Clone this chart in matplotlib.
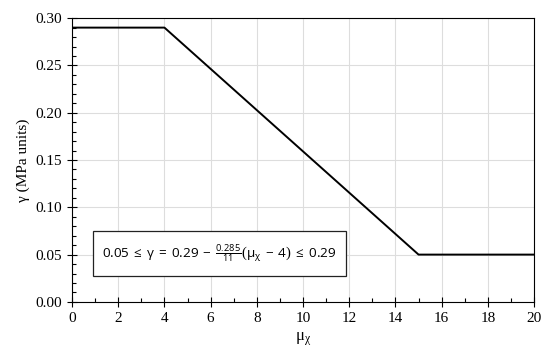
import matplotlib.pyplot as plt
from matplotlib.patches import Rectangle
from matplotlib.ticker import MultipleLocator

# breakpoints of the gamma(mu) curve
mu = [0, 4, 15, 20]
gamma = [0.29, 0.29, 0.05, 0.05]

plt.rcParams['font.family'] = ['Liberation Serif', 'DejaVu Serif']
plt.rcParams['mathtext.fontset'] = 'custom'
plt.rcParams['mathtext.rm'] = 'Liberation Serif'
plt.rcParams['mathtext.it'] = 'Liberation Serif'
plt.rcParams['mathtext.sf'] = 'Open Sans'

fig = plt.figure(figsize=(5.5, 3.56), dpi=100)
ax = fig.add_axes([0.131, 0.152, 0.84, 0.797])

ax.plot(mu, gamma, color='black', linewidth=1.4)

ax.set_xlim(0, 20)
ax.set_ylim(0, 0.30)
ax.xaxis.set_major_locator(MultipleLocator(2))
ax.xaxis.set_minor_locator(MultipleLocator(1))
ax.yaxis.set_major_locator(MultipleLocator(0.05))
ax.yaxis.set_minor_locator(MultipleLocator(0.01))
ax.set_yticklabels([f'{v:.2f}' for v in ax.get_yticks()])
ax.grid(True, which='major', color='#dddddd', linewidth=0.8)
ax.set_axisbelow(True)
ax.tick_params(which='major', direction='inout', length=7, width=0.8, labelsize=11)
ax.tick_params(which='minor', direction='in', length=3, width=0.8)
for s in ax.spines.values():
    s.set_linewidth(0.8)

ax.set_xlabel(r'$\mathrm{μ}_{\mathrm{χ}}$', fontsize=12)
ax.set_ylabel('γ (MPa units)', fontsize=11)

# equation box
ax.add_patch(Rectangle((0.045, 0.092), 0.548, 0.158, transform=ax.transAxes,
                       facecolor='white', edgecolor='#222222', linewidth=0.9, zorder=3))
ax.text(0.319, 0.171,
        r'$\mathsf{0.05\;\leq\;γ\;=\;0.29\;-\;\frac{0.285}{11}\left(μ_{χ}\;-\;4\right)\;\leq\;0.29}$',
        transform=ax.transAxes, fontsize=9.7, ha='center', va='center', zorder=4)

fig.savefig('out.png', dpi=100)
